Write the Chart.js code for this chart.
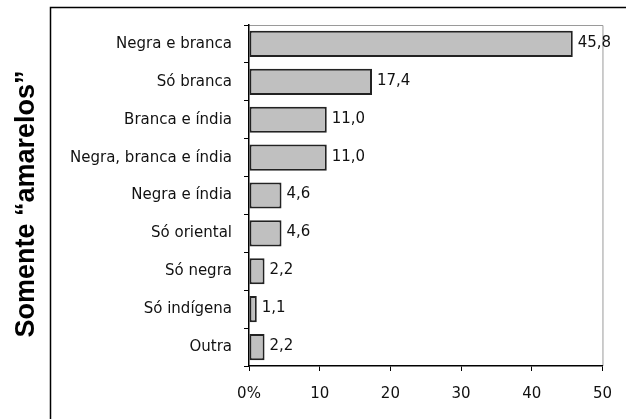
<!DOCTYPE html>
<html>
<head>
<meta charset="utf-8">
<script src="https://cdn.jsdelivr.net/npm/chart.js@4/dist/chart.umd.min.js"></script>
<style>
  html, body { margin: 0; padding: 0; background: #fff; }
  #wrap { width: 626px; height: 419px; position: relative; }
</style>
</head>
<body>
<div id="wrap"><canvas id="chart" width="626" height="419"></canvas></div>
<script>
const categories = [
  "Negra e branca",
  "Só branca",
  "Branca e índia",
  "Negra, branca e índia",
  "Negra e índia",
  "Só oriental",
  "Só negra",
  "Só indígena",
  "Outra"
];
const percentages = [45.8, 17.4, 11.0, 11.0, 4.6, 4.6, 2.2, 1.1, 2.2];
const axisTitle = "Somente “amarelos”";

const ctx = document.getElementById("chart").getContext("2d");

// Frame, plot border and rotated title
const framePlugin = {
  id: "frame",
  beforeDraw(chart) {
    const c = chart.ctx;
    const a = chart.chartArea;
    c.save();
    c.fillStyle = "#fff";
    c.fillRect(0, 0, chart.width, chart.height);
    // outer frame (top + left)
    c.strokeStyle = "#000";
    c.lineWidth = 1.5;
    c.beginPath();
    c.moveTo(50.5, chart.height);
    c.lineTo(50.5, 7.5);
    c.lineTo(chart.width, 7.5);
    c.stroke();
    // plot area top/right border
    c.strokeStyle = "#9a9a9a";
    c.lineWidth = 1;
    c.beginPath();
    c.moveTo(a.left, a.top + 0.5);
    c.lineTo(a.right + 0.5, a.top + 0.5);
    c.lineTo(a.right + 0.5, a.bottom);
    c.stroke();
    // vertical title
    c.translate(27, 204);
    c.rotate(-Math.PI / 2);
    c.fillStyle = "#000";
    c.font = "bold 27px 'Liberation Sans', Arial, sans-serif";
    c.textAlign = "center";
    c.textBaseline = "middle";
    c.fillText(axisTitle, 0, 0);
    c.restore();
  }
};

// Value labels at bar ends
const valueLabels = {
  id: "valueLabels",
  afterDatasetsDraw(chart) {
    const c = chart.ctx;
    const meta = chart.getDatasetMeta(0);
    c.save();
    c.fillStyle = "#111";
    c.font = "15px 'DejaVu Sans', sans-serif";
    c.textAlign = "left";
    c.textBaseline = "middle";
    meta.data.forEach((bar, i) => {
      const txt = percentages[i].toFixed(1).replace(".", ",");
      c.fillText(txt, bar.x + 5, bar.y - 1);
    });
    c.restore();
  }
};

new Chart(ctx, {
  type: "bar",
  data: {
    labels: categories,
    datasets: [
      {
        data: percentages,
        backgroundColor: "#c0c0c0",
        borderColor: "#222",
        borderWidth: 2,
        borderSkipped: false,
        barPercentage: 0.69,
        categoryPercentage: 1
      }
    ]
  },
  options: {
    indexAxis: "y",
    responsive: false,
    animation: false,
    layout: { padding: { top: 25, right: 23, left: 0, bottom: 0 } },
    plugins: {
      legend: { display: false },
      tooltip: { enabled: false }
    },
    scales: {
      x: {
        min: 0,
        max: 50,
        ticks: {
          stepSize: 10,
          color: "#111",
          padding: 14,
          font: { family: "'DejaVu Sans', sans-serif", size: 15 },
          callback: (v) => (v === 0 ? "0%" : v)
        },
        grid: {
          drawOnChartArea: false,
          drawTicks: true,
          tickLength: 5,
          color: "#000"
        },
        border: { color: "#000", width: 1.5 },
        afterFit(scale) { scale.height = 53; }
      },
      y: {
        ticks: {
          color: "#111",
          padding: 12,
          font: { family: "'DejaVu Sans', sans-serif", size: 15 }
        },
        grid: {
          drawOnChartArea: false,
          drawTicks: true,
          tickLength: 5,
          color: "#000"
        },
        border: { color: "#000", width: 1.5 },
        afterFit(scale) { scale.width = 249; }
      }
    }
  },
  plugins: [framePlugin, valueLabels]
});
</script>
</body>
</html>
